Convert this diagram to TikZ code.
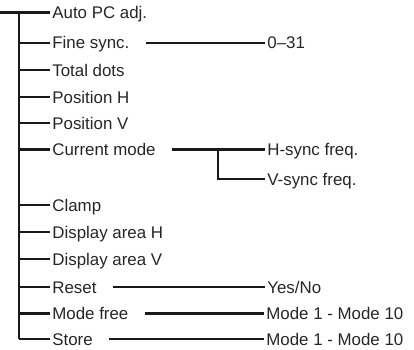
\documentclass[tikz,border=0pt]{standalone}
\usepackage{fontspec}
\setmainfont{Liberation Sans}
\usetikzlibrary{positioning,calc}

\begin{document}
\begin{tikzpicture}[
        x=0.025cm, y=-0.025cm,
        item/.style={anchor=west, inner sep=1.5pt, text height=8.6pt, text depth=0pt, font=\fontsize{12}{14}\selectfont, text=black!85},
        branch/.style={line width=1.6pt, draw=black!90},
        link/.style={branch, shorten <=10pt}
    ]
        \useasboundingbox (0,0) rectangle (414,349);

        % left column
        \node[item] (auto) at (50,12.5) {Auto PC adj.};
        \node[item] (fine) at (50,42.7) {Fine sync.};
        \node[item] (dots) at (50,70) {Total dots};
        \node[item] (posh) at (50,97) {Position H};
        \node[item] (posv) at (50,123) {Position V};
        \node[item] (curmode) at (50,149.5) {Current mode};
        \node[item] (clamp) at (50,205) {Clamp};
        \node[item] (areah) at (50,232) {Display area H};
        \node[item] (areav) at (50,259) {Display area V};
        \node[item] (reset) at (50,287) {Reset};
        \node[item] (modefree) at (50,313.5) {Mode free};
        \node[item] (store) at (50,339) {Store};

        % right column
        \node[item] (range) at (265,42.7) {0--31};
        \node[item] (hsync) at (265,149.5) {H-sync freq.};
        \node[item] (vsync) at (265,179) {V-sync freq.};
        \node[item] (yesno) at (265,287) {Yes/No};
        \node[item] (freemodes) at (264,313.5) {Mode 1 - Mode 10};
        \node[item] (storemodes) at (264,339) {Mode 1 - Mode 10};

        \coordinate (start) at (0,12.5);
        \coordinate (root) at (19,12.5);
        \coordinate (split) at (218,149.5);

        \draw[branch] (start) -- (auto.west);
        \draw[branch] (root) -- (root |- store);
        \foreach \n in {fine,dots,posh,posv,curmode,clamp,areah,areav,reset,modefree,store}
            \draw[branch] (root |- \n) -- (\n.west);

        \draw[link] (fine.east) -- (range.west);
        \draw[link] (curmode.east) -- (hsync.west);
        \draw[branch] (split) |- (vsync.west);
        \draw[link] (reset.east) -- (yesno.west);
        \draw[link] (modefree.east) -- (freemodes.west);
        \draw[link] (store.east) -- (storemodes.west);
    \end{tikzpicture}
\end{document}
